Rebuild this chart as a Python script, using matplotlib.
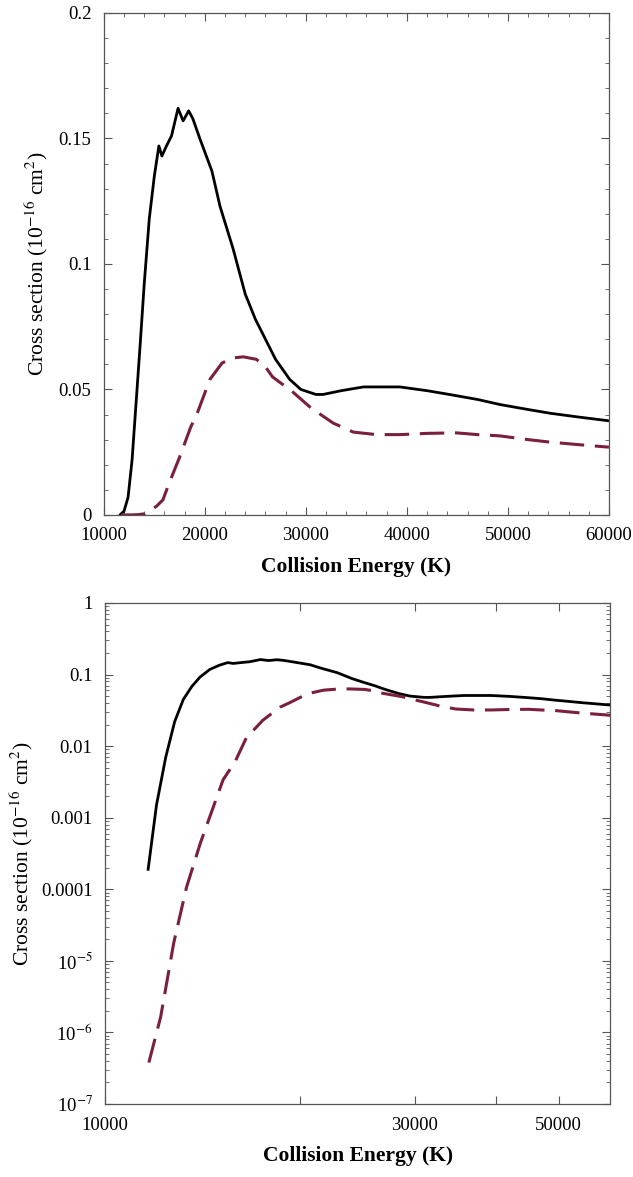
import matplotlib
matplotlib.use('Agg')
from matplotlib import pyplot as plt
from matplotlib.ticker import MultipleLocator, LogLocator, NullFormatter

plt.rcParams['font.family'] = ['Liberation Serif', 'DejaVu Serif']
plt.rcParams['mathtext.fontset'] = 'stix'

# solid curve
e_solid = [11650, 12000, 12400, 12800, 13200, 13600, 14000, 14500, 15000, 15450,
           15750, 16200, 16700, 17350, 17850, 18400, 18800, 19500, 20700, 21500,
           22800, 24000, 25000, 26000, 27000, 28400, 29500, 31000, 31700, 33500,
           35700, 39300, 42000, 44200, 47000, 49200, 52000, 54200, 57000, 60000]
s_solid = [1.9e-4, 1.5e-3, 7e-3, 0.022, 0.045, 0.068, 0.092, 0.118, 0.135, 0.147,
           0.143, 0.147, 0.151, 0.162, 0.157, 0.161, 0.158, 0.150, 0.137, 0.123,
           0.106, 0.088, 0.078, 0.070, 0.062, 0.054, 0.050, 0.048, 0.048, 0.0495,
           0.051, 0.051, 0.0495, 0.048, 0.046, 0.044, 0.042, 0.0405, 0.039, 0.0375]

# dashed curve
e_dash = [11680, 12180, 12760, 13350, 14030, 15200, 15850, 16500, 17500, 18600,
          19200, 20500, 21700, 22700, 23800, 25100, 26000, 26700, 28700, 30400,
          31100, 32700, 34700, 37000, 39300, 42000, 44900, 47000, 49200, 52000,
          54200, 57000, 60000]
s_dash = [3.8e-7, 1.65e-6, 1.8e-5, 1.07e-4, 4.5e-4, 3.4e-3, 0.006, 0.013, 0.023, 0.035,
          0.040, 0.054, 0.0605, 0.0625, 0.063, 0.062, 0.059, 0.055, 0.049, 0.043,
          0.041, 0.0366, 0.033, 0.032, 0.032, 0.0325, 0.0327, 0.032, 0.0315, 0.030,
          0.029, 0.028, 0.027]

log_ticks = [1, 0.1, 0.01, 0.001, 0.0001, 1e-5, 1e-6, 1e-7]
log_labels = ['1', '0.1', '0.01', '0.001', '0.0001',
              '10$^{-5}$', '10$^{-6}$', '10$^{-7}$']
x_ticks2 = [10000, 20000, 30000, 40000, 50000]
x_labels2 = ['10000', '', '30000', '', '50000']

dash_color = '#7a1f3d'
ylab = 'Cross section (10$^{-16}$ cm$^2$)'
fig = plt.figure(figsize=(6.33, 11.77), dpi=100)

ax1 = fig.add_axes([0.164, 0.5625, 0.798, 0.4265])
ax1.plot(e_solid, s_solid, color='black', lw=2.0)
ax1.plot(e_dash, s_dash, color=dash_color, lw=2.2, dashes=(8, 3.5))
ax1.set_xlim(10000, 60000)
ax1.set_ylim(0, 0.2)
ax1.set_xticks([10000, 20000, 30000, 40000, 50000, 60000])
ax1.set_yticks([0, 0.05, 0.1, 0.15, 0.2])
ax1.set_yticklabels(['0', '0.05', '0.1', '0.15', '0.2'])
ax1.xaxis.set_minor_locator(MultipleLocator(2000))
ax1.yaxis.set_minor_locator(MultipleLocator(0.01))
ax1.set_xlabel('Collision Energy (K)', fontsize=15.5, fontweight='bold', labelpad=9)
ax1.set_ylabel(ylab, fontsize=15.5, labelpad=6)

ax2 = fig.add_axes([0.166, 0.062, 0.798, 0.4257])
ax2.plot(e_solid, s_solid, color='black', lw=2.0)
ax2.plot(e_dash, s_dash, color=dash_color, lw=2.2, dashes=(8, 3.5))
ax2.set_xscale('log')
ax2.set_yscale('log')
ax2.set_xlim(10000, 60000)
ax2.set_ylim(1e-7, 1)
ax2.set_xticks(x_ticks2)
ax2.set_xticklabels(x_labels2)
ax2.xaxis.set_minor_formatter(NullFormatter())
ax2.xaxis.set_minor_locator(plt.NullLocator())
ax2.set_yticks(log_ticks)
ax2.set_yticklabels(log_labels)
ax2.yaxis.set_minor_locator(LogLocator(base=10, subs=range(2, 10), numticks=20))
ax2.yaxis.set_minor_formatter(NullFormatter())
ax2.set_xlabel('Collision Energy (K)', fontsize=15.5, fontweight='bold', labelpad=9)
ax2.set_ylabel(ylab, fontsize=15.5, labelpad=4)

for ax in (ax1, ax2):
    for sp in ax.spines.values():
        sp.set_color('#555555')
        sp.set_linewidth(0.9)
    ax.tick_params(which='both', direction='in', top=True, right=True,
                   labelsize=13.5, colors='#555555', labelcolor='black')
    ax.tick_params(which='major', length=6, width=0.8, pad=9)
    ax.tick_params(which='minor', length=3, width=0.6)

fig.savefig('out.png', dpi=100)
